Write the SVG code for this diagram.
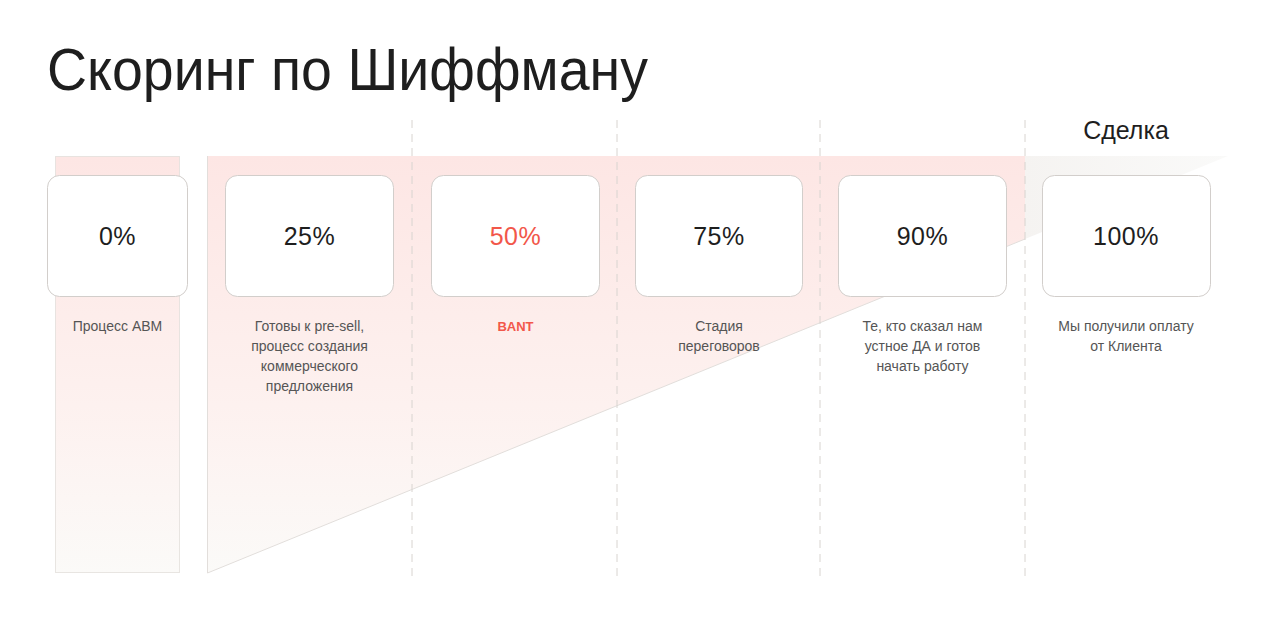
<svg xmlns="http://www.w3.org/2000/svg" width="1280" height="622" viewBox="0 0 1280 622">
<defs>
<linearGradient id="pinkV" x1="0" y1="0" x2="0" y2="1">
<stop offset="0" stop-color="#fde6e4"/>
<stop offset="0.6" stop-color="#fdf1ef"/>
<stop offset="1" stop-color="#fbfaf8"/>
</linearGradient>
<linearGradient id="grayH" x1="1025" y1="0" x2="1228" y2="0" gradientUnits="userSpaceOnUse">
<stop offset="0" stop-color="#f5f3f1"/>
<stop offset="1" stop-color="#fafaf9"/>
</linearGradient>
<clipPath id="leftClip"><rect x="0" y="0" width="1025" height="622"/></clipPath>
<clipPath id="rightClip"><rect x="1025" y="0" width="255" height="622"/></clipPath>
</defs>
<style>
.card{fill:#ffffff;stroke:#d2cecb;stroke-width:1}
.pct{font-family:"Liberation Sans",Arial,sans-serif;font-size:25px;fill:#1e1e1e;text-anchor:middle;letter-spacing:0.5px}
.lbl{font-family:"Liberation Sans",Arial,sans-serif;font-size:14px;fill:#555555;text-anchor:middle}
.dash{stroke:#d8d4d0;stroke-width:1;stroke-dasharray:8 6;fill:none}
</style>
<rect width="1280" height="622" fill="#ffffff"/>
<text x="47" y="90" font-family="'Liberation Sans',Arial,sans-serif" font-size="59" fill="#1e1e1e" textLength="601" lengthAdjust="spacingAndGlyphs">Скоринг по Шиффману</text>
<text x="1126" y="139" font-family="'Liberation Sans',Arial,sans-serif" font-size="25" fill="#1e1e1e" text-anchor="middle">Сделка</text>
<g id="backgrounds">
<rect x="55.5" y="156.5" width="124" height="416" fill="url(#pinkV)" stroke="#e2dedb" stroke-opacity="0.8"/>
<polygon points="207.5,156 1228,156 207.5,573" fill="url(#pinkV)" clip-path="url(#leftClip)"/>
<polygon points="207.5,156 1228,156 207.5,573" fill="url(#grayH)" clip-path="url(#rightClip)"/>
<polyline points="207.5,156 207.5,573 1025,239" fill="none" stroke="#e2dedb"/>
</g>
<g id="connectors">
<line class="dash" x1="412" y1="120" x2="412" y2="576"/>
<line class="dash" x1="617" y1="120" x2="617" y2="576"/>
<line class="dash" x1="820" y1="120" x2="820" y2="576"/>
<line class="dash" x1="1025" y1="120" x2="1025" y2="576"/>
</g>
<g id="node-0">
<rect class="card" x="47.5" y="175.5" width="140" height="121" rx="12"/>
<text class="pct" x="117.5" y="245">0%</text>
<text class="lbl" x="117.5" y="331">Процесс ABM</text>
</g>
<g id="node-25">
<rect class="card" x="225.5" y="175.5" width="168" height="121" rx="12"/>
<text class="pct" x="309.5" y="245">25%</text>
<text class="lbl" x="309.5" y="331">Готовы к pre-sell,</text>
<text class="lbl" x="309.5" y="351">процесс создания</text>
<text class="lbl" x="309.5" y="371">коммерческого</text>
<text class="lbl" x="309.5" y="391">предложения</text>
</g>
<g id="node-50">
<rect class="card" x="431.5" y="175.5" width="168" height="121" rx="12"/>
<text class="pct" x="515.5" y="245" style="fill:#f2574a">50%</text>
<text class="lbl" x="515.5" y="331" style="fill:#f2574a;font-weight:bold;font-size:13px">BANT</text>
</g>
<g id="node-75">
<rect class="card" x="635.5" y="175.5" width="167" height="121" rx="12"/>
<text class="pct" x="719" y="245">75%</text>
<text class="lbl" x="719" y="331">Стадия</text>
<text class="lbl" x="719" y="351">переговоров</text>
</g>
<g id="node-90">
<rect class="card" x="838.5" y="175.5" width="168" height="121" rx="12"/>
<text class="pct" x="922.5" y="245">90%</text>
<text class="lbl" x="922.5" y="331">Те, кто сказал нам</text>
<text class="lbl" x="922.5" y="351">устное ДА и готов</text>
<text class="lbl" x="922.5" y="371">начать работу</text>
</g>
<g id="node-100">
<rect class="card" x="1042.5" y="175.5" width="168" height="121" rx="12"/>
<text class="pct" x="1126" y="245">100%</text>
<text class="lbl" x="1126" y="331">Мы получили оплату</text>
<text class="lbl" x="1126" y="351">от Клиента</text>
</g>
</svg>
